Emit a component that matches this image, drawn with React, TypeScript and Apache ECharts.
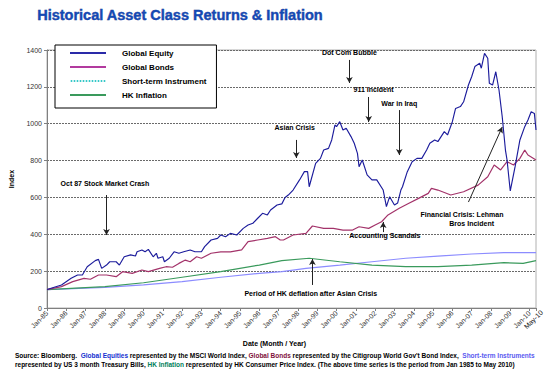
import React, { useEffect, useRef } from "react";
import * as echarts from "echarts";

const FONT = "'Liberation Sans', Arial, sans-serif";

const MONTH_NAMES = ["Jan", "Feb", "Mar", "Apr", "May", "Jun", "Jul", "Aug", "Sep", "Oct", "Nov", "Dec"];
const categories: string[] = [];
for (let y = 1985; y <= 2010; y++) {
  for (let m = 0; m < 12; m++) {
    if (y === 2010 && m > 4) break;
    categories.push(`${MONTH_NAMES[m]}-${String(y % 100).padStart(2, "0")}`);
  }
}

const yTicks = [0, 200, 400, 600, 800, 1000, 1200, 1400];

// [month index from Jan-85, index value]
const globalEquity: [number, number][] = [
  [0, 100], [9, 125], [15, 161], [19, 179], [22, 179], [25, 224], [30, 257], [32, 264], [34, 215], [37, 233],
  [39, 251], [43, 251], [45, 233], [48, 278], [52, 288], [55, 282], [56, 305], [59, 315], [61, 305], [63, 318],
  [66, 278], [68, 297], [69, 270], [72, 278], [73, 251], [76, 270], [79, 305], [82, 297], [85, 305], [89, 315],
  [92, 305], [96, 305], [98, 333], [102, 369], [106, 378], [108, 396], [111, 387], [114, 405], [118, 396], [122, 432],
  [125, 450], [128, 460], [131, 487], [134, 514], [137, 505], [139, 532], [143, 559], [146, 565], [148, 600], [150, 613],
  [153, 640], [157, 695], [160, 740], [162, 740], [163, 658], [167, 785], [170, 812], [172, 857], [175, 866], [177, 912],
  [179, 993], [180, 984], [182, 1011], [184, 966], [186, 975], [189, 930], [191, 894], [193, 839], [194, 767], [196, 803],
  [199, 722], [202, 695], [205, 695], [209, 640], [211, 550], [213, 604], [216, 559], [218, 570], [220, 640], [221, 658],
  [224, 740], [227, 794], [230, 812], [233, 812], [236, 857], [238, 894], [241, 912], [243, 903], [247, 957], [249, 939],
  [252, 1011], [254, 1083], [257, 1093], [259, 1119], [262, 1210], [264, 1255], [266, 1310], [269, 1328], [270, 1301], [272, 1382],
  [274, 1355], [275, 1219], [277, 1210], [279, 1282], [281, 1183], [283, 1038], [285, 857], [286, 803], [288, 635], [291, 767],
  [294, 912], [297, 984], [299, 1020], [301, 1065], [303, 1056], [304, 966],
];

const globalBonds: [number, number][] = [
  [0, 100], [9, 116], [16, 143], [23, 161], [27, 156], [32, 179], [37, 179], [43, 170], [47, 197], [53, 188],
  [59, 206], [63, 197], [70, 215], [74, 224], [78, 221], [82, 242], [86, 260], [89, 251], [93, 278], [96, 270],
  [102, 297], [108, 305], [114, 305], [121, 315], [125, 360], [131, 369], [137, 378], [142, 387], [145, 369], [147, 369],
  [153, 396], [161, 405], [165, 445], [172, 432], [178, 432], [184, 423], [190, 423], [194, 441], [200, 432], [204, 450],
  [208, 468], [212, 505], [219, 541], [225, 568], [231, 595], [237, 622], [239, 649], [243, 640], [251, 613], [259, 631],
  [268, 667], [274, 712], [278, 776], [282, 749], [286, 794], [290, 776], [294, 812], [297, 857], [299, 830], [304, 803],
];

const shortTerm: [number, number][] = [
  [0, 100], [36, 112], [60, 125], [84, 143], [108, 167], [132, 188], [146, 197], [161, 215], [182, 233], [202, 251],
  [223, 270], [243, 282], [264, 293], [284, 300], [304, 300],
];

const hkInflation: [number, number][] = [
  [0, 100], [36, 116], [60, 137], [84, 167], [108, 197], [132, 233], [146, 257], [163, 270], [182, 251], [202, 233],
  [223, 224], [243, 224], [264, 233], [284, 246], [296, 242], [304, 257],
];

// annotation labels: [text, month index, value]
const noteLabels: [string, number, number][] = [
  ["Oct 87 Stock Market Crash", 36, 678],
  ["Asian Crisis", 154, 982],
  ["Dot Com Bubble", 188, 1384],
  ["911 Incident", 203, 1183],
  ["War in Iraq", 219, 1112],
  ["Financial Crisis: Lehman", 258, 510],
  ["Bros Incident", 264, 461],
  ["Accounting Scandals", 210, 391],
  ["Period of HK deflation after Asian Crisis", 164, 81],
];

// arrows: [from month, from value, to month, to value]
const noteArrows: [number, number, number, number][] = [
  [37, 613, 37, 396],
  [155, 912, 155, 814],
  [188, 1346, 188, 1221],
  [200, 1145, 200, 1009],
  [219, 1074, 219, 830],
  [262, 575, 283, 982],
  [209, 412, 209, 467],
  [165, 125, 165, 266],
];

const seriesNames = ["Global Equity", "Global Bonds", "Short-term Instrument", "HK Inflation"];

const SOLID_ICON = "path://M0,0h36v2h-36z";
let dots = "path://";
for (let x = 0; x < 36; x += 3) dots += `M${x},0h1.6v2h-1.6z`;
const DOTTED_ICON = dots;

export default function App() {
  const ref = useRef<HTMLDivElement>(null);
  useEffect(() => {
    if (!ref.current) return;
    const chart = echarts.init(ref.current, undefined, { renderer: "svg" });
    const lastIdx = categories.length - 1;
    const isYearStart = (i: number) => i % 12 === 0;
    const labelBase = { rotate: 45, fontSize: 7, color: "#333", margin: 4, hideOverlap: false };
    chart.setOption({
      animation: false,
      textStyle: { fontFamily: FONT },
      grid: { left: 40, right: 18, top: 50, bottom: 73, show: true, borderColor: "#b0b0b0", borderWidth: 1, backgroundColor: "transparent" },
      legend: {
        orient: "vertical",
        left: 55,
        top: 45,
        itemWidth: 36,
        itemHeight: 2,
        itemGap: 4,
        padding: [3, 10, 8, 15],
        backgroundColor: "#fff",
        borderColor: "#000",
        borderWidth: 1,
        textStyle: { fontSize: 8, lineHeight: 10, fontWeight: "bold", color: "#000", fontFamily: FONT, padding: [0, 0, 0, 11] },
        data: [
          { name: seriesNames[0], icon: SOLID_ICON, itemStyle: { color: "#2a2aa8" } },
          { name: seriesNames[1], icon: SOLID_ICON, itemStyle: { color: "#b23a9e" } },
          { name: seriesNames[2], icon: DOTTED_ICON, itemStyle: { color: "#36c8c8" } },
          { name: seriesNames[3], icon: SOLID_ICON, itemStyle: { color: "#3a9a5c" } },
        ],
      },
      xAxis: [
        {
          type: "category",
          position: "bottom",
          data: categories,
          boundaryGap: false,
          name: "Date (Month / Year)",
          nameLocation: "middle",
          nameGap: 32,
          nameTextStyle: { fontSize: 7, fontWeight: "bold", color: "#000", padding: [0, 34, 0, 0] },
          axisLine: { lineStyle: { color: "#808080", width: 1 } },
          axisTick: { interval: (i: number) => isYearStart(i) || i === lastIdx, length: 3, lineStyle: { color: "#808080" } },
          axisLabel: { ...labelBase, interval: (i: number) => isYearStart(i) },
          splitLine: { show: false },
        },
        {
          type: "category",
          position: "bottom",
          data: categories,
          boundaryGap: false,
          axisLine: { show: false },
          axisTick: { show: false },
          axisLabel: {
            ...labelBase,
            margin: 9,
            padding: [0, -8, 0, 0],
            color: "#111",
            interval: (i: number) => i === lastIdx,
            showMinLabel: false,
            showMaxLabel: true,
          },
          splitLine: { show: false },
        },
      ],
      yAxis: {
        type: "value",
        min: 0,
        max: 1400,
        interval: 200,
        name: "Index",
        nameLocation: "middle",
        nameGap: 32,
        nameTextStyle: { fontSize: 7, fontWeight: "bold", color: "#000" },
        axisLine: { show: true, lineStyle: { color: "#808080", width: 1 } },
        axisTick: { show: true, length: 3, lineStyle: { color: "#808080" } },
        axisLabel: { fontSize: 7, color: "#333", margin: 5, formatter: (v: number) => (yTicks.includes(v) ? String(v) : "") },
        splitLine: { show: true, lineStyle: { color: "#6a6a6a", width: 1, type: [2, 1] } },
      },
      series: [
        {
          name: seriesNames[0],
          type: "line",
          data: globalEquity,
          showSymbol: false,
          symbol: "none",
          lineStyle: { color: "#1c1c9c", width: 1.15 },
          itemStyle: { color: "#1c1c9c" },
          z: 5,
          markLine: {
            silent: true,
            symbol: ["none", "arrow"],
            symbolSize: [5, 6],
            label: { show: false },
            lineStyle: { color: "#222", width: 1, type: "solid" },
            data: noteArrows.map(([x1, y1, x2, y2]) => [
              { coord: [categories[x1], y1] },
              { coord: [categories[x2], y2] },
            ]),
          },
          markPoint: {
            silent: true,
            symbol: "circle",
            symbolSize: 1,
            itemStyle: { color: "transparent" },
            label: { show: true, position: "inside", fontSize: 7, fontWeight: "bold", color: "#000" },
            data: noteLabels.map(([t, x, y]) => ({
              coord: [categories[x], y],
              value: t,
              label: { formatter: t },
            })),
          },
        },
        {
          name: seriesNames[1],
          type: "line",
          data: globalBonds,
          showSymbol: false,
          symbol: "none",
          lineStyle: { color: "#a3336a", width: 1.2 },
          itemStyle: { color: "#a3336a" },
          z: 4,
        },
        {
          name: seriesNames[2],
          type: "line",
          data: shortTerm,
          showSymbol: false,
          symbol: "none",
          lineStyle: { color: "#8c8cff", width: 1.2 },
          itemStyle: { color: "#8c8cff" },
          z: 3,
        },
        {
          name: seriesNames[3],
          type: "line",
          data: hkInflation,
          showSymbol: false,
          symbol: "none",
          lineStyle: { color: "#3a9a5c", width: 1.2 },
          itemStyle: { color: "#3a9a5c" },
          z: 3,
        },
      ],
      graphic: [
        {
          type: "text",
          left: 37,
          top: 7,
          style: {
            text: "Historical Asset Class Returns & Inflation",
            fontSize: 14.5,
            fontWeight: "bold",
            fontFamily: FONT,
            fill: "#1449b4",
            stroke: "#0a2e86",
            lineWidth: 0.4,
            textShadowColor: "#00103a",
            textShadowOffsetX: 1,
            textShadowOffsetY: 1,
            textShadowBlur: 0,
          },
        },
        {
          type: "text",
          left: 15,
          top: 352,
          style: {
            text:
              "Source: Bloomberg.  {e|Global Equities} represented by the MSCI World Index, {b|Global Bonds} represented by the Citigroup World Gov't Bond Index,  {s|Short-term Instruments}",
            fontSize: 6.5,
            fontWeight: "bold",
            fontFamily: FONT,
            fill: "#000",
            rich: {
              e: { fill: "#1530d0", color: "#1530d0", fontSize: 6.5, fontWeight: "bold", fontFamily: FONT },
              b: { fill: "#80103a", color: "#80103a", fontSize: 6.5, fontWeight: "bold", fontFamily: FONT },
              s: { fill: "#5a5af0", color: "#5a5af0", fontSize: 6.5, fontWeight: "bold", fontFamily: FONT },
            },
          },
        },
        {
          type: "text",
          left: 15,
          top: 361,
          style: {
            text:
              "represented by US 3 month Treasury Bills, {g|HK Inflation} represented by HK Consumer Price Index. (The above time series is the period from Jan 1985 to May 2010)",
            fontSize: 6.5,
            fontWeight: "bold",
            fontFamily: FONT,
            fill: "#000",
            rich: {
              g: { fill: "#00805a", color: "#00805a", fontSize: 6.5, fontWeight: "bold", fontFamily: FONT },
            },
          },
        },
      ],
    });
    return () => chart.dispose();
  }, []);
  return <div ref={ref} style={{ width: 554, height: 381, margin: -8 }} />;
}
